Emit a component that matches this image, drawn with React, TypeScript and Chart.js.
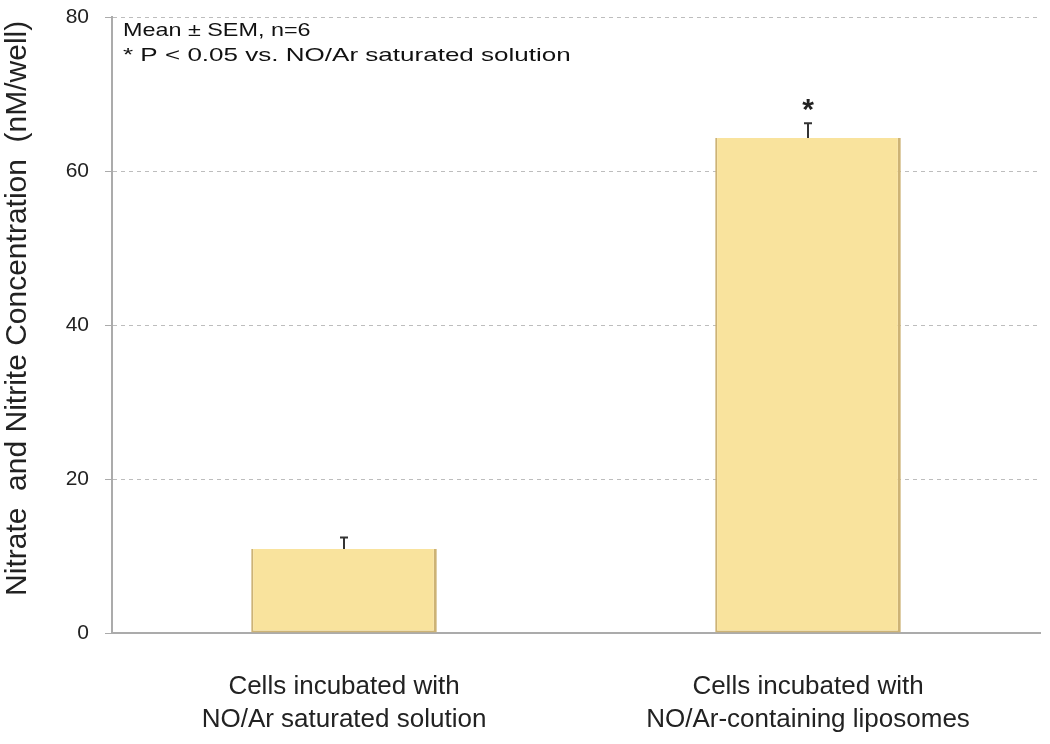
import React, { useEffect, useRef } from "react";
import { Chart, registerables } from "chart.js";

Chart.register(...registerables);

const categories: string[][] = [
  ["Cells incubated with", "NO/Ar saturated solution"],
  ["Cells incubated with", "NO/Ar-containing liposomes"],
];
const means: number[] = [10.9, 64.3];
const sems: number[] = [1.5, 1.9];
const significant: boolean[] = [false, true];
const yTicks: number[] = [0, 20, 40, 60, 80];
const yTitle = "    Nitrate  and Nitrite Concentration  (nM/well)";
const noteLines: string[] = ["Mean \u00b1 SEM, n=6", "* P < 0.05 vs. NO/Ar saturated solution"];

const FONT = "'Liberation Sans', Arial, sans-serif";

const errorBarPlugin = {
  id: "errorBars",
  afterDatasetsDraw(chart: any) {
    const ctx = chart.ctx;
    const meta = chart.getDatasetMeta(0);
    const y = chart.scales.y;
    ctx.save();
    meta.data.forEach((bar: any, i: number) => {
      const x = bar.x;
      const top = y.getPixelForValue(means[i] + sems[i]);
      const base = y.getPixelForValue(means[i]);
      ctx.strokeStyle = "#333";
      ctx.lineWidth = 2;
      ctx.beginPath();
      ctx.moveTo(x, base);
      ctx.lineTo(x, top);
      ctx.moveTo(x - 4, top);
      ctx.lineTo(x + 4, top);
      ctx.stroke();
      if (significant[i]) {
        ctx.fillStyle = "#222";
        ctx.font = `bold 30px ${FONT}`;
        ctx.textAlign = "center";
        ctx.textBaseline = "middle";
        ctx.fillText("*", x, top - 13);
      }
    });
    // annotation
    ctx.fillStyle = "#111";
    ctx.font = `19px ${FONT}`;
    ctx.textAlign = "left";
    ctx.textBaseline = "middle";
    noteLines.forEach((t, i) => {
      ctx.save();
      ctx.translate(chart.chartArea.left + 11, 31 + i * 25);
      ctx.scale(i === 0 ? 1.23 : 1.37, 1);
      ctx.fillText(t, 0, 0);
      ctx.restore();
    });
    ctx.restore();
  },
};

export default function App() {
  const ref = useRef<HTMLCanvasElement | null>(null);
  useEffect(() => {
    if (!ref.current) return;
    const chart = new Chart(ref.current, {
      type: "bar",
      data: {
        labels: categories,
        datasets: [
          {
            data: means,
            backgroundColor: "#F9E39D",
            borderColor: "#CDB375",
            borderWidth: { left: 2, right: 3, top: 0, bottom: 2 } as any,
            borderSkipped: false,
            categoryPercentage: 1,
            barPercentage: 0.4,
          },
        ],
      },
      options: {
        animation: false,
        responsive: false,
        layout: { padding: { top: 17, right: 10, left: 0, bottom: 0 } },
        plugins: { legend: { display: false }, tooltip: { enabled: false } },
        scales: {
          x: {
            grid: { display: false, drawTicks: false },
            border: { display: true, color: "#ABABAB", width: 2 },
            ticks: {
              color: "#222",
              font: { family: FONT, size: 26, lineHeight: 1.27 },
              padding: 37,
              maxRotation: 0,
              autoSkip: false,
            },
            afterFit(scale: any) {
              scale.height = 111;
            },
          },
          y: {
            min: 0,
            max: 80,
            afterBuildTicks(scale: any) {
              scale.ticks = yTicks.map((v) => ({ value: v }));
            },
            grid: {
              color: (c: any) => (c.tick && c.tick.value === 0 ? "rgba(0,0,0,0)" : "#BDBDBD"),
              tickColor: "#ABABAB",
              drawTicks: true,
              tickLength: 7,
              lineWidth: 1,
            },
            border: { display: true, color: "#ABABAB", width: 2, dash: [4, 4] as any },
            ticks: {
              color: "#222",
              font: { family: FONT, size: 21 },
              padding: 16,
            },
            title: {
              display: true,
              text: yTitle,
              color: "#222",
              font: { family: FONT, size: 30 },
              padding: { top: 0, bottom: 0 },
            },
            afterFit(scale: any) {
              scale.width = 112;
              scale.paddingTop = 0;
              scale.paddingBottom = 0;
            },
          },
        },
      },
      plugins: [errorBarPlugin],
    });
    return () => chart.destroy();
  }, []);
  return (
    <div style={{ position: "fixed", left: 0, top: 0, width: 1050, height: 744, background: "#fff" }}>
      <canvas ref={ref} width={1050} height={744} />
    </div>
  );
}
